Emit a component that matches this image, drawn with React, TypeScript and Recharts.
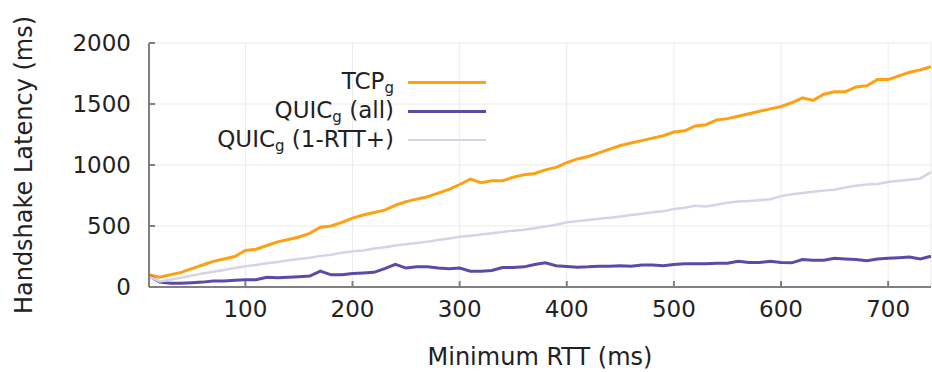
import React from 'react';
import { LineChart, Line, XAxis, YAxis, CartesianGrid, Label } from 'recharts';

// minimum RTT buckets (ms)
const rtt = [
  10, 20, 30, 40, 50, 60, 70, 80, 90, 100,
  110, 120, 130, 140, 150, 160, 170, 180, 190, 200,
  210, 220, 230, 240, 250, 260, 270, 280, 290, 300,
  310, 320, 330, 340, 350, 360, 370, 380, 390, 400,
  410, 420, 430, 440, 450, 460, 470, 480, 490, 500,
  510, 520, 530, 540, 550, 560, 570, 580, 590, 600,
  610, 620, 630, 640, 650, 660, 670, 680, 690, 700,
  710, 720, 730, 740,
];

const tcp = [
  100, 80, 100, 120, 150, 180, 210, 230, 250, 300,
  310, 340, 370, 390, 410, 440, 490, 500, 530, 565,
  590, 610, 630, 670, 700, 720, 740, 770, 800, 840,
  885, 855, 870, 870, 900, 920, 930, 960, 980, 1020,
  1050, 1070, 1100, 1130, 1160, 1180, 1200, 1220, 1240, 1270,
  1280, 1320, 1330, 1370, 1380, 1400, 1420, 1440, 1460, 1480,
  1510, 1550, 1530, 1580, 1600, 1600, 1640, 1650, 1700, 1700,
  1730, 1760, 1780, 1805,
];

const quicAll = [
  90, 40, 30, 30, 35, 40, 50, 50, 55, 60,
  60, 80, 75, 80, 85, 90, 130, 100, 100, 110,
  115, 120, 150, 185, 155, 165, 165, 155, 150, 155,
  130, 130, 135, 160, 160, 165, 185, 198, 175, 168,
  162, 165, 170, 170, 175, 170, 180, 180, 175, 185,
  190, 190, 190, 195, 195, 210, 200, 200, 210, 200,
  198, 225, 220, 220, 235, 230, 225, 215, 230, 235,
  240, 245, 230, 252,
];

const quic1rtt = [
  85, 45, 60, 75, 95, 110, 125, 140, 155, 170,
  180, 195, 205, 220, 230, 240, 255, 265, 280, 292,
  300, 315, 325, 340, 350, 360, 372, 385, 398, 412,
  420, 430, 440, 450, 462, 470, 482, 495, 510, 530,
  540, 550, 560, 568, 578, 590, 600, 612, 620, 640,
  650, 665, 660, 675, 690, 700, 705, 712, 720, 745,
  760, 770, 780, 790, 798, 815, 830, 840, 845, 860,
  870, 880, 890, 942,
];

const xTicks = [100, 200, 300, 400, 500, 600, 700];
const yTicks = [0, 500, 1000, 1500, 2000];

const series = [
  { key: 'tcp', label: 'TCP', sub: 'g', rest: '', color: '#ffa012', width: 3 },
  { key: 'quicAll', label: 'QUIC', sub: 'g', rest: ' (all)', color: '#5b4aa8', width: 3 },
  { key: 'quic1rtt', label: 'QUIC', sub: 'g', rest: ' (1-RTT+)', color: '#d8d2e8', width: 2.5 },
];

const data = rtt.map((x, i) => ({
  rtt: x,
  tcp: tcp[i],
  quicAll: quicAll[i],
  quic1rtt: quic1rtt[i],
}));

const FONT = '"DejaVu Sans", sans-serif';
const AXIS = '#808080';

export default function App() {
  return (
    <div style={{ position: 'absolute', left: 0, top: 0, width: 932, height: 372, background: '#fff', fontFamily: FONT }}>
      <LineChart width={932} height={372} data={data} margin={{ top: 43, right: 1, bottom: 0, left: 0 }}>
        <CartesianGrid stroke="#ebebeb" strokeWidth={1} />
        <XAxis
          dataKey="rtt"
          type="number"
          domain={[10, 740]}
          ticks={xTicks}
          height={85}
          tickSize={-6}
          tickMargin={20}
          stroke={AXIS}
          strokeWidth={2}
          tick={{ fill: '#222', fontSize: 23, fontFamily: FONT }}
        >
          <Label value="Minimum RTT (ms)" position="insideBottom" offset={7} style={{ fill: '#222', fontSize: 24, fontFamily: FONT }} />
        </XAxis>
        <XAxis
          xAxisId="top"
          orientation="top"
          dataKey="rtt"
          type="number"
          domain={[10, 740]}
          ticks={xTicks}
          height={0}
          tickSize={-6}
          tick={false}
          stroke={AXIS}
          strokeWidth={2}
        />
        <YAxis
          type="number"
          domain={[0, 2000]}
          ticks={yTicks}
          width={149}
          tickSize={-6}
          tickMargin={24}
          stroke={AXIS}
          strokeWidth={2}
          tick={{ fill: '#222', fontSize: 23, fontFamily: FONT }}
        >
          <Label
            value="Handshake Latency (ms)"
            angle={-90}
            position="insideLeft"
            offset={23}
            style={{ textAnchor: 'middle', fill: '#222', fontSize: 24, fontFamily: FONT }}
          />
        </YAxis>
        <YAxis
          yAxisId="right"
          orientation="right"
          type="number"
          domain={[0, 2000]}
          ticks={yTicks}
          width={0}
          tickSize={-6}
          tick={false}
          stroke={AXIS}
          strokeWidth={2}
        />
        {series.map((s) => (
          <Line
            key={s.key}
            dataKey={s.key}
            type="linear"
            stroke={s.color}
            strokeWidth={s.width}
            dot={false}
            isAnimationActive={false}
          />
        ))}
      </LineChart>
      {series.map((s, i) => {
        const cy = 82 + i * 29;
        return (
          <React.Fragment key={s.key}>
            <div
              style={{
                position: 'absolute',
                left: 0,
                width: 394,
                top: cy - 14,
                height: 26,
                lineHeight: '26px',
                textAlign: 'right',
                fontSize: 23,
                color: '#222',
                whiteSpace: 'nowrap',
              }}
            >
              {s.label}
              <span style={{ fontSize: 15, position: 'relative', top: 4, lineHeight: '15px' }}>{s.sub}</span>
              {s.rest}
            </div>
            <div
              style={{
                position: 'absolute',
                left: 408,
                width: 78,
                top: cy - s.width / 2,
                height: s.width,
                background: s.color,
              }}
            />
          </React.Fragment>
        );
      })}
    </div>
  );
}
